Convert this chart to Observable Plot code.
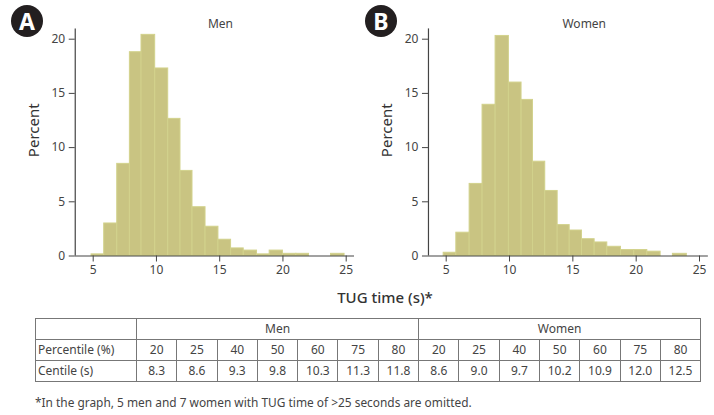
<!DOCTYPE html>
<html><head><meta charset="utf-8">
<script src="https://cdn.jsdelivr.net/npm/d3@7"></script>
<script src="https://cdn.jsdelivr.net/npm/@observablehq/plot@0.6"></script>
<style>
html,body{margin:0;padding:0;background:#fff;}
body{width:714px;height:415px;position:relative;overflow:hidden;font-family:"Noto Sans",sans-serif;color:#3c3c3c;}
.panel{position:absolute;top:0;}
.badge{position:absolute;width:32px;height:32px;border-radius:50%;background:#231f20;color:#fff;font:700 23px/32px "Noto Sans",sans-serif;text-align:center;top:5px;}
#xtitle{position:absolute;left:285px;width:200px;text-align:center;top:286px;font-size:15px;line-height:22px;font-weight:500;color:#333;}
table{position:absolute;left:35px;top:318px;border-collapse:collapse;table-layout:fixed;width:665px;font-size:12px;color:#444;}
td{border:1.5px solid #777;padding:0;text-align:center;height:20px;line-height:18px;}
td.h{text-align:left;padding-left:2px;}
#note{position:absolute;left:35px;top:393px;font-size:11.9px;line-height:18px;color:#444;white-space:nowrap;}
</style></head><body>
<div id="a" class="panel" style="left:0"></div>
<div id="b" class="panel" style="left:355px"></div>
<div class="badge" style="left:11px">A</div>
<div class="badge" style="left:365px">B</div>
<div id="xtitle">TUG time (s)*</div>
<div id="tbl"></div>
<div id="note">*In the graph, 5 men and 7 women with TUG time of &gt;25 seconds are omitted.</div>
<script>
const menEdges = [4.87,5.87,6.9,7.9,8.82,9.9,10.93,11.9,12.85,13.88,14.9,15.9,16.9,17.95,18.95,20,21.06,22.06,23.8,24.87];
const menPct = [0.15,3.0,8.5,18.8,20.4,17.3,12.65,7.85,4.5,2.7,1.5,0.7,0.5,0.15,0.5,0.2,0.2,0,0.2];
const womenEdges = [4.8,5.8,6.85,7.87,8.9,9.95,10.95,11.85,12.82,13.8,14.75,15.72,16.72,17.72,18.8,19.85,20.88,21.93,22.9,24];
const womenPct = [0.3,2.15,6.65,13.95,20.3,16,14.4,8.7,6,2.85,2.35,1.55,1.25,0.85,0.55,0.55,0.4,0,0.2];
const xTicks = [5,10,15,20,25];
const yTicks = [0,5,10,15,20];
const percentiles = [20,25,40,50,60,75,80];
const menCentile = ["8.3","8.6","9.3","9.8","10.3","11.3","11.8"];
const womenCentile = ["8.6","9.0","9.7","10.2","10.9","12.0","12.5"];

function hist(edges, pct, title, titleX, xr, xd, W){
  const rows = pct.map((p,i)=>({x1:edges[i],x2:edges[i+1],p}));
  return Plot.plot({
    width:W,height:300,
    marginLeft:0,marginRight:0,marginTop:0,marginBottom:0,
    style:{fontFamily:'"Noto Sans",sans-serif',background:"transparent",color:"#444"},
    x:{domain:[5,25],range:xr,label:null},
    y:{domain:[0,20],range:[255.5,38.7],label:null},
    marks:[
      Plot.rectY(rows.filter(d=>d.p>0),{x1:"x1",x2:"x2",y:"p",fill:"#c9c482",stroke:"#d2d28c",strokeWidth:1,inset:0}),
      Plot.ruleY([0],{x1:xd[0],x2:xd[1],stroke:"#444",strokeWidth:1.2}),
      Plot.ruleX([xd[0]],{y1:0,y2:20.95,stroke:"#444",strokeWidth:1.2}),
      Plot.axisX({ticks:xTicks,tickSize:6,tickPadding:3,fontSize:12,stroke:"#444",tickFormat:d=>d,label:null,anchor:"bottom",y:0,dy:0}),
      Plot.axisY({ticks:yTicks,tickSize:6,tickPadding:4,fontSize:12,stroke:"#444",label:null,anchor:"left",x:xd[0]}),
      Plot.text([title],{text:d=>d,frameAnchor:"top",dy:19,fontSize:12,fill:"#444",x:titleX}),
      Plot.text(["Percent"],{text:d=>d,x:xd[0],y:11.6,rotate:-90,dx:-41,fontSize:15,fontWeight:400,fill:"#333"})
    ]
  });
}
document.getElementById("a").append(hist(menEdges,menPct,"Men",15.06,[92.7,345.7],[3.58,25.66],357));
document.getElementById("b").append(hist(womenEdges,womenPct,"Women",15.9,[90.7,344],[3.6,25.7],359));

const widths=[101,40.3,40.3,40.3,40.3,40.3,40.3,40.3,40.3,40.3,40.3,40.3,40.3,40.3,40.1];
const t=d3.select("#tbl").append("table");
t.append("colgroup").selectAll("col").data(widths).join("col").style("width",d=>d+"px");
const r0=t.append("tr");r0.append("td");
r0.append("td").attr("colspan",7).text("Men");
r0.append("td").attr("colspan",7).text("Women");
const r1=t.append("tr");r1.append("td").attr("class","h").text("Percentile (%)");
[...percentiles,...percentiles].forEach(v=>r1.append("td").text(v));
const r2=t.append("tr");r2.append("td").attr("class","h").text("Centile (s)");
[...menCentile,...womenCentile].forEach(v=>r2.append("td").text(v));
</script>
</body></html>
